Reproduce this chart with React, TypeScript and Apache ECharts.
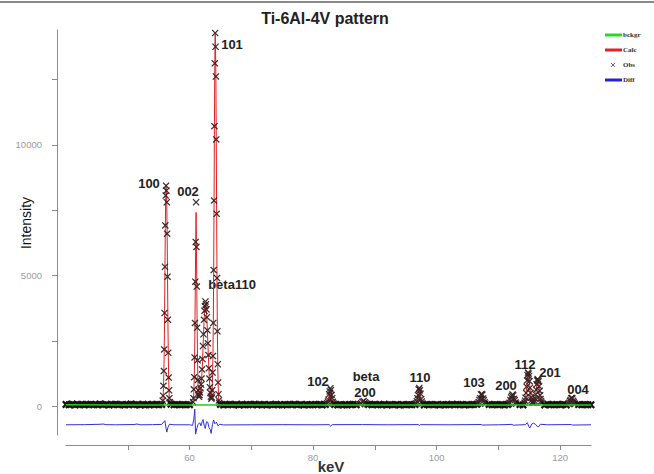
import React, { useEffect, useRef } from 'react';
import * as echarts from 'echarts';

const titleText = 'Ti-6Al-4V pattern';
const xName = 'keV';
const yName = 'Intensity';
const xTickValues = [50, 60, 70, 80, 90, 100, 110, 120];
const xLabelValues = [60, 80, 100, 120];
const yTickValues = [0, 2500, 5000, 7500, 10000, 12500];
const yLabelValues = [0, 5000, 10000];
const legendNames = ['bckgr', 'Calc', 'Obs', 'Diff'];

// observed baseline: one value every 0.5 keV from 40 to 125
const baseStart = 40;
const baseStep = 0.5;
const obsBaseline = [
  60, 45, 72, 38, 55, 66, 41, 58, 70, 47,
  52, 80, 44, 63, 35, 57, 69, 48, 61, 40,
  55, 73, 46, 59, 37, 64, 50, 42, 68, 53,
  45, 61, 39, 56, 70, 48, 62, 44, 58, 51,
  49, 66, 43, 55, 60, 47, 52, 71, 45, 58,
  62, 41, 54, 67, 46, 59, 38, 63, 50, 44,
  57, 69, 42, 53, 61, 36, 58, 47, 65, 51,
  40, 62, 55, 48, 70, 44, 57, 39, 60, 52,
  46, 58, 64, 41, 53, 67, 45, 56, 38, 61,
  50, 43, 59, 66, 47, 54, 62, 40, 57, 49,
  63, 45, 52, 68, 41, 56, 48, 60, 37, 55,
  44, 61, 50, 58, 46, 65, 42, 53, 59, 47,
  56, 39, 62, 51, 45, 67, 48, 54, 60, 43,
  58, 46, 53, 64, 41, 57, 50, 62, 44, 55,
  49, 60, 43, 56, 66, 47, 52, 58, 40, 63,
  54, 45, 61, 48, 57, 42, 65, 50, 46, 59,
  52, 63, 41, 55, 60, 47, 58, 44, 62, 50,
  48,
];

const bckgr = [
  [40, 45], [50, 40], [60, 40], [70, 38], [80, 36], [90, 35], [100, 35], [110, 38], [125, 40],
];

// peaks: [keV, calc, obs]
const peak100 = [
  [55.66, 150, 200], [55.72, 350, 393], [55.78, 700, 773], [55.84, 1250, 1343], [55.9, 2100, 2167],
  [55.96, 3450, 3562], [56.02, 5200, 5335], [56.08, 6800, 6920], [56.14, 8000, 8061], [56.2, 8400, 8441],
  [56.26, 8200, 8251], [56.32, 7700, 7806], [56.38, 6500, 6603], [56.44, 4900, 4955], [56.5, 3250, 3308],
  [56.56, 2000, 2040], [56.62, 1100, 1090], [56.68, 560, 600], [56.74, 250, 300], [56.8, 120, 150],
];
const peak002 = [
  [60.58, 120, 150], [60.64, 280, 300], [60.7, 600, 640], [60.76, 1050, 1103], [60.82, 1800, 1863],
  [60.88, 3100, 3182], [60.94, 4700, 4765], [61.0, 6200, 6286], [61.06, 7420, 7806], [61.12, 6050, 6096],
  [61.18, 4500, 4575], [61.24, 2950, 3000], [61.3, 1700, 1750], [61.36, 950, 1000], [61.42, 560, 600],
  [61.48, 400, 420],
];
const peakBeta110 = [
  [61.54, 330, 350], [61.62, 380, 420], [61.7, 470, 520], [61.78, 600, 680], [61.86, 780, 820],
  [61.94, 1000, 1050], [62.02, 1300, 1400], [62.1, 1700, 1800], [62.18, 2200, 2300], [62.26, 2700, 2750],
  [62.34, 3200, 3300], [62.42, 3600, 3650], [62.5, 3850, 3830], [62.58, 3920, 4004], [62.66, 3880, 3900],
  [62.74, 3650, 3700], [62.82, 3300, 3400], [62.9, 2850, 2900], [62.98, 2350, 2400], [63.06, 1850, 1950],
  [63.14, 1400, 1450], [63.22, 1000, 1050], [63.3, 700, 720], [63.38, 480, 500], [63.46, 340, 360],
  [63.54, 260, 280],
];
const peak101 = [
  [63.61, 320, 330], [63.67, 650, 600], [63.73, 1250, 1280], [63.79, 1900, 1913], [63.85, 3150, 3182],
  [63.91, 5150, 5209], [63.97, 7800, 7870], [64.03, 10650, 10722], [64.09, 13050, 13130], [64.15, 14250, 14290],
  [64.21, 13700, 13764], [64.27, 12550, 12624], [64.33, 10150, 10215], [64.39, 7300, 7364], [64.45, 4850, 4900],
  [64.51, 2800, 2865], [64.57, 1550, 1600], [64.63, 850, 900], [64.69, 420, 450], [64.75, 200, 210],
  [64.81, 110, 120],
];
const peak102 = [
  [82.3, 90, 110], [82.4, 150, 170], [82.5, 260, 240], [82.6, 420, 450], [82.7, 580, 560], [82.8, 650, 680],
  [82.9, 590, 610], [83.0, 440, 420], [83.1, 270, 300], [83.2, 150, 160], [83.3, 90, 100],
];
const peakBeta200 = [
  [87.6, 60, 70], [87.8, 100, 110], [88.0, 150, 160], [88.2, 170, 190], [88.4, 150, 140], [88.6, 100, 110], [88.8, 60, 70],
];
const peak110 = [
  [96.7, 90, 100], [96.8, 160, 180], [96.9, 280, 300], [97.0, 440, 420], [97.1, 600, 640], [97.2, 660, 690],
  [97.3, 590, 600], [97.4, 430, 470], [97.5, 270, 260], [97.6, 150, 170], [97.7, 90, 100],
];
const peak103 = [
  [106.7, 80, 90], [106.82, 130, 150], [106.94, 210, 230], [107.06, 320, 300], [107.18, 420, 440], [107.3, 450, 460],
  [107.42, 410, 430], [107.54, 310, 290], [107.66, 200, 220], [107.78, 120, 140], [107.9, 80, 90],
];
const peak200 = [
  [111.7, 80, 90], [111.82, 130, 120], [111.94, 210, 230], [112.06, 310, 330], [112.18, 400, 390], [112.3, 420, 440],
  [112.42, 390, 410], [112.54, 300, 280], [112.66, 200, 220], [112.78, 120, 130], [112.9, 80, 90],
];
const peak112 = [
  [114.25, 100, 120], [114.33, 180, 200], [114.41, 300, 320], [114.49, 480, 500], [114.57, 700, 740],
  [114.65, 930, 980], [114.73, 1130, 1180], [114.81, 1230, 1280], [114.89, 1220, 1240], [114.97, 1100, 1150],
  [115.05, 900, 950], [115.13, 680, 700], [115.21, 470, 500], [115.29, 310, 330], [115.37, 200, 220],
  [115.45, 140, 150], [115.53, 110, 120],
];
const peak201 = [
  [115.8, 110, 120], [115.88, 170, 190], [115.96, 270, 290], [116.04, 420, 440], [116.12, 600, 620],
  [116.2, 790, 830], [116.28, 940, 980], [116.36, 1010, 1030], [116.44, 1000, 990], [116.52, 900, 940],
  [116.6, 740, 760], [116.68, 560, 580], [116.76, 390, 410], [116.84, 260, 270], [116.92, 170, 180],
  [117.0, 110, 120],
];
const peak004 = [
  [121.4, 70, 80], [121.5, 110, 120], [121.6, 170, 190], [121.7, 240, 230], [121.8, 290, 300], [121.9, 300, 310],
  [122.0, 270, 290], [122.1, 210, 200], [122.2, 140, 150], [122.3, 90, 100], [122.4, 70, 80],
];

// difference curve (offset below zero)
const diffCurve = [
  [40, -720], [43, -715], [45.5, -700], [46.0, -690], [46.5, -715], [48, -720], [51.0, -710], [51.5, -690],
  [52.0, -720], [54.0, -715], [55.5, -705], [55.85, -600], [56.0, -560], [56.2, -850], [56.32, -1000],
  [56.5, -820], [56.75, -700], [57.5, -720], [60.0, -720], [60.5, -740], [60.7, -500], [60.85, -120],
  [60.98, -1080], [61.15, -880], [61.4, -700], [61.65, -640], [61.85, -760], [62.05, -600], [62.2, -520],
  [62.4, -780], [62.55, -860], [62.75, -600], [62.95, -620], [63.15, -820], [63.35, -900], [63.5, -1050],
  [63.7, -720], [63.9, -540], [64.1, -680], [64.35, -620], [64.6, -760], [64.9, -700], [65.5, -725],
  [70, -720], [75, -715], [80, -720], [82.6, -715], [82.85, -770], [83.1, -715], [88, -712], [92, -720],
  [97.0, -712], [97.2, -745], [97.4, -715], [102, -720], [107.2, -710], [107.4, -730], [110, -720],
  [112.2, -705], [112.4, -735], [114.4, -715], [114.7, -640], [114.95, -800], [115.1, -840], [115.4, -690],
  [115.7, -660], [116.0, -700], [116.3, -780], [116.55, -790], [116.8, -700], [118, -720], [121.8, -710],
  [122.0, -730], [125, -720],
];

// peak labels: [text, pixel x, pixel y]
const peakLabels: [string, number, number][] = [
  ['100', 149, 183], ['002', 188, 191], ['101', 232, 44], ['beta110', 232, 284],
  ['102', 318, 381], ['beta', 366, 376], ['200', 365, 392], ['110', 420, 377],
  ['103', 474, 382], ['200', 506, 385], ['112', 525, 364], ['201', 550, 372], ['004', 578, 389],
];

const peaks = [peak100, peak002, peakBeta110, peak101, peak102, peakBeta200, peak110, peak103, peak200, peak112, peak201, peak004];

const X_BOLD = 'path://M0,2L2,0L5,3L8,0L10,2L7,5L10,8L8,10L5,7L2,10L0,8L3,5Z';
const X_THIN = 'path://M0,1.2L1.2,0L5,3.8L8.8,0L10,1.2L6.2,5L10,8.8L8.8,10L5,6.2L1.2,10L0,8.8L3.8,5Z';

export default function App() {
  const ref = useRef<HTMLDivElement>(null);
  useEffect(() => {
    if (!ref.current) return;
    const chart = echarts.init(ref.current, null, { renderer: 'svg' });
    const windows = peaks.map((p) => [p[0][0], p[p.length - 1][0]]);
    const inWindow = (x: number) => windows.some(([a, b]) => x >= a - 0.1 && x <= b + 0.1);

    const obsData: any[] = [];
    obsBaseline.forEach((v, i) => {
      const x = baseStart + i * baseStep;
      if (!inWindow(x)) obsData.push({ value: [x, v], symbol: X_BOLD, symbolSize: 8 });
    });
    peaks.forEach((p) => p.forEach((r) => obsData.push({
      value: [r[0], r[2]], symbol: X_THIN, symbolSize: 7, itemStyle: { color: '#3a2424' },
    })));
    obsData.sort((a, b) => a.value[0] - b.value[0]);

    const calcData: number[][] = [];
    bckgr.forEach((r) => { if (!inWindow(r[0])) calcData.push([r[0], r[1]]); });
    peaks.forEach((p) => p.forEach((r) => calcData.push([r[0], r[1]])));
    calcData.sort((a, b) => a[0] - b[0]);

    const axisColor = '#8c8c8c';
    const labelFont = 'Liberation Sans';

    const graphic: any[] = [
      { type: 'line', shape: { x1: 0, y1: 2, x2: 654, y2: 2 }, style: { stroke: '#8a8a8a', lineWidth: 2 } },
      {
        type: 'text', x: 325, y: 18,
        style: { text: titleText, textAlign: 'center', textVerticalAlign: 'middle', font: 'bold 16px "Liberation Sans"', fill: '#222' },
      },
      {
        type: 'text', x: 26, y: 223, rotation: Math.PI / 2,
        style: { text: yName, textAlign: 'center', textVerticalAlign: 'middle', font: '14px "Liberation Sans"', fill: '#111' },
      },
      {
        type: 'text', x: 331, y: 466,
        style: { text: xName, textAlign: 'center', textVerticalAlign: 'middle', font: 'bold 15px "Liberation Sans"', fill: '#333' },
      },
      // legend
      { type: 'line', shape: { x1: 605, y1: 35, x2: 622, y2: 35 }, style: { stroke: '#22dd22', lineWidth: 3 } },
      { type: 'line', shape: { x1: 605, y1: 50, x2: 622, y2: 50 }, style: { stroke: '#e02424', lineWidth: 3 } },
      { type: 'line', shape: { x1: 611, y1: 63, x2: 615, y2: 67 }, style: { stroke: '#666', lineWidth: 1 } },
      { type: 'line', shape: { x1: 615, y1: 63, x2: 611, y2: 67 }, style: { stroke: '#666', lineWidth: 1 } },
      { type: 'line', shape: { x1: 605, y1: 80, x2: 622, y2: 80 }, style: { stroke: '#2222dd', lineWidth: 3 } },
      ...legendNames.map((n, i) => ({
        type: 'text', x: 623, y: 35 + i * 15,
        style: { text: n, textAlign: 'left', textVerticalAlign: 'middle', font: 'bold 7px "Liberation Serif"', fill: '#333' },
      })),
      ...peakLabels.map(([t, x, y]) => ({
        type: 'text', x, y,
        style: { text: t, textAlign: 'center', textVerticalAlign: 'middle', font: 'bold 13px "Liberation Sans"', fill: '#222' },
      })),
    ];

    chart.setOption({
      animation: false,
      backgroundColor: '#ffffff',
      grid: { left: 66, right: 63, top: 30, bottom: 39 },
      xAxis: {
        type: 'value', min: 40, max: 125, offset: 10,
        axisLine: { show: true, onZero: false, lineStyle: { color: axisColor, width: 1 } },
        axisTick: { show: true, customValues: xTickValues, length: 5, lineStyle: { color: axisColor } },
        axisLabel: { customValues: xLabelValues, color: '#9a9a9a', fontSize: 9.5, margin: 7, fontFamily: labelFont, formatter: (v: number) => String(v) },
        splitLine: { show: false },
      },
      yAxis: {
        type: 'value', min: -1111, max: 14406, offset: 9,
        axisLine: { show: true, onZero: false, lineStyle: { color: axisColor, width: 1 } },
        axisTick: { show: true, customValues: yTickValues, length: 5, lineStyle: { color: axisColor } },
        axisLabel: { customValues: yLabelValues, color: '#9a9a9a', fontSize: 9.5, margin: 15, fontFamily: labelFont, formatter: (v: number) => String(v) },
        splitLine: { show: false },
      },
      series: [
        {
          name: 'Diff', type: 'line', data: diffCurve, showSymbol: false, clip: false,
          lineStyle: { color: '#3030dd', width: 1 }, z: 2,
        },
        {
          name: 'Calc', type: 'line', data: calcData, showSymbol: false,
          lineStyle: { color: '#e02020', width: 1 }, z: 3,
        },
        {
          name: 'Obs', type: 'scatter', data: obsData,
          itemStyle: { color: '#1a1010', opacity: 1 }, z: 4,
        },
        {
          name: 'bckgr', type: 'line', data: bckgr, showSymbol: false,
          lineStyle: { color: '#22cc22', width: 1.5 }, z: 5,
        },
      ],
      graphic,
    });
    return () => chart.dispose();
  }, []);
  return <div ref={ref} style={{ position: 'fixed', left: 0, top: 0, width: 654, height: 474, background: '#fff' }} />;
}
